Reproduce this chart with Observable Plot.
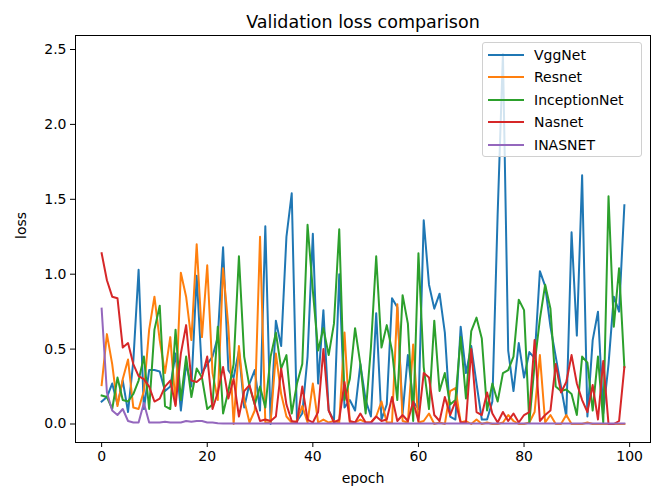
<!DOCTYPE html>
<html>
<head>
<meta charset="utf-8">
<script src="https://cdn.jsdelivr.net/npm/d3@7"></script>
<script src="https://cdn.jsdelivr.net/npm/@observablehq/plot@0.6"></script>
<style>
  body { margin: 0; background: #fff; }
  #wrap { position: relative; width: 659px; height: 488px; font-family: "DejaVu Sans", sans-serif; }
  #legend { position: absolute; left: 482px; top: 42px; width: 160px; height: 115px; box-sizing: border-box;
    border: 1px solid #d0d0d0; border-radius: 3px; background: rgba(255,255,255,0.8); }
  .entry { position: absolute; left: 5px; height: 20px; display: flex; align-items: center; font-size: 14px; color: #000; }
  .swatch { width: 36px; height: 2px; margin-right: 10px; }
</style>
</head>
<body>
<div id="wrap"><div id="legend"></div></div>
<script>
const models = ["VggNet", "Resnet", "InceptionNet", "Nasnet", "INASNET"];
const colors = ["#1f77b4", "#ff7f0e", "#2ca02c", "#d62728", "#9467bd"];
const xTicks = [0, 20, 40, 60, 80, 100];
const yTicks = [0, 0.5, 1.0, 1.5, 2.0, 2.5];

const vggnet = [0.15,0.18,0.27,0.13,0.29,0.08,0.42,1.03,0.10,0.36, 0.36,0.35,0.22,0.25,0.47,0.09,0.40,0.25,0.99,0.34,
  0.40,0.45,0.58,1.18,0.36,0.31,0.49,0.11,0.27,0.36, 0.09,1.32,0.00,0.69,0.52,1.25,1.54,0.02,0.07,0.45,
  1.27,0.27,0.76,0.09,0.02,1.00,0.11,0.16,0.09,0.40, 0.16,0.05,0.74,0.03,0.13,0.84,0.78,0.07,0.46,0.15,
  0.10,1.36,0.93,0.77,0.87,0.61,0.05,0.03,0.65,0.34, 0.52,0.27,0.03,0.03,0.15,1.40,2.47,0.49,0.22,0.54,
  0.31,0.48,0.44,1.02,0.92,0.65,0.45,0.25,0.05,1.28, 0.59,1.66,0.05,0.56,0.75,0.07,0.40,0.85,0.75,1.46];
const resnet = [0.26,0.60,0.40,0.12,0.30,0.43,0.11,0.10,0.22,0.63, 0.85,0.56,0.34,0.58,0.13,1.01,0.85,0.56,1.20,0.58,
  1.06,0.34,0.16,1.04,0.65,0.00,0.52,0.16,0.01,0.09, 1.25,0.01,0.01,0.47,0.20,0.05,0.01,0.02,0.12,0.01,
  0.27,0.01,0.03,0.01,0.02,0.01,0.61,0.01,0.01,0.03, 0.01,0.01,0.05,0.15,0.01,0.01,0.80,0.02,0.01,0.53,
  0.01,0.02,0.07,0.00,0.01,0.00,0.22,0.24,0.01,0.02, 0.00,0.03,0.00,0.01,0.00,0.00,0.01,0.06,0.02,0.00,
  0.00,0.01,0.08,0.46,0.01,0.06,0.00,0.00,0.06,0.00, 0.00,0.00,0.01,0.00,0.00,0.00,0.00,0.00,0.00,0.00];
const inceptionnet = [0.19,0.18,0.10,0.31,0.16,0.15,0.20,0.29,0.45,0.10, 0.63,0.79,0.12,0.10,0.63,0.16,0.45,0.18,0.37,0.31,
  0.10,0.13,0.65,0.07,0.22,0.40,1.12,0.45,0.25,0.13, 0.25,0.11,0.45,0.61,0.37,0.46,0.07,0.27,0.40,1.33,
  0.89,0.49,0.64,0.46,0.67,1.30,0.16,0.30,0.64,0.40, 0.07,0.51,1.12,0.51,0.66,0.49,0.16,0.86,0.67,0.02,
  1.14,0.38,0.10,0.69,0.22,0.34,0.13,0.16,0.58,0.17, 0.62,0.71,0.57,0.09,0.27,0.15,0.34,0.36,0.45,0.83,
  0.76,0.01,0.40,0.70,0.93,0.77,0.25,0.22,0.23,0.20, 0.06,0.45,0.41,0.09,0.45,0.01,1.52,0.65,1.04,0.38];
const nasnet = [1.14,0.96,0.85,0.84,0.51,0.54,0.40,0.32,0.30,0.25, 0.15,0.17,0.25,0.29,0.12,0.47,0.66,0.29,0.28,0.31,
  0.45,0.10,0.21,0.38,0.17,0.30,0.05,0.22,0.26,0.13, 0.02,0.03,0.02,0.05,0.37,0.13,0.02,0.01,0.25,0.03,
  0.01,0.08,0.50,0.09,0.01,0.03,0.28,0.02,0.01,0.07, 0.01,0.01,0.05,0.02,0.03,0.18,0.02,0.06,0.02,0.15,
  0.02,0.34,0.31,0.06,0.02,0.18,0.06,0.15,0.01,0.01, 0.50,0.08,0.06,0.21,0.07,0.01,0.08,0.02,0.07,0.01,
  0.06,0.08,0.56,0.02,0.06,0.09,0.40,0.21,0.28,0.46, 0.27,0.16,0.08,0.26,0.03,0.42,0.00,0.00,0.02,0.38];
const inasnet = [0.77,0.21,0.09,0.06,0.10,0.02,0.01,0.01,0.14,0.01, 0.01,0.01,0.015,0.01,0.01,0.01,0.02,0.015,0.02,0.02,
  0.01,0.01,0.005,0.004,0.004,0.003,0.004,0.003,0.003,0.004, 0.003,0.003,0.004,0.003,0.003,0.003,0.004,0.003,0.003,0.003,
  0.003,0.003,0.003,0.004,0.003,0.003,0.003,0.003,0.003,0.003, 0.003,0.003,0.004,0.003,0.003,0.003,0.003,0.003,0.003,0.003,
  0.003,0.003,0.003,0.003,0.003,0.003,0.003,0.003,0.003,0.003, 0.003,0.003,0.003,0.003,0.003,0.003,0.003,0.003,0.003,0.003,
  0.003,0.003,0.003,0.003,0.003,0.003,0.003,0.003,0.003,0.003, 0.003,0.003,0.003,0.003,0.003,0.003,0.003,0.003,0.003,0.003];

const seriesValues = [vggnet, resnet, inceptionnet, nasnet, inasnet];
const data = models.flatMap((m, i) => seriesValues[i].map((v, e) => ({model: m, epoch: e, loss: v})));

const chart = Plot.plot({
  width: 659,
  height: 488,
  marginLeft: 75,
  marginRight: 9,
  marginTop: 35,
  marginBottom: 46,
  style: {fontFamily: "DejaVu Sans, sans-serif", fontSize: "14px", color: "#000", background: "#fff"},
  x: {domain: [-4.95, 103.95]},
  y: {domain: [-0.1235, 2.5935]},
  color: {domain: models, range: colors},
  marks: [
    Plot.lineY(data, {x: "epoch", y: "loss", z: "model", stroke: "model", strokeWidth: 2, strokeLinejoin: "round", strokeLinecap: "square"}),
    Plot.frame({stroke: "#000", strokeWidth: 1}),
    Plot.axisX(xTicks, {tickSize: 5, tickPadding: 4, fontSize: 14, label: null}),
    Plot.axisY(yTicks, {tickSize: 5, tickPadding: 4, fontSize: 14, tickFormat: d3.format(".1f"), label: null}),
    Plot.text(["epoch"], {frameAnchor: "bottom", dy: 40, fontSize: 14, fill: "#000"}),
    Plot.text(["loss"], {frameAnchor: "left", dx: -54, rotate: -90, fontSize: 14, fill: "#000"}),
    Plot.text(["Validation loss comparison"], {frameAnchor: "top", dy: -8, lineAnchor: "bottom", fontSize: 17.5, fill: "#000"})
  ]
});
const wrap = document.getElementById("wrap");
wrap.insertBefore(chart, wrap.firstChild);

const legend = document.getElementById("legend");
models.forEach((m, i) => {
  const row = document.createElement("div");
  row.className = "entry";
  row.style.top = (2 + i * 22.4) + "px";
  const sw = document.createElement("span");
  sw.className = "swatch";
  sw.style.background = colors[i];
  const lab = document.createElement("span");
  lab.textContent = m;
  row.appendChild(sw); row.appendChild(lab);
  legend.appendChild(row);
});
</script>
</body>
</html>
